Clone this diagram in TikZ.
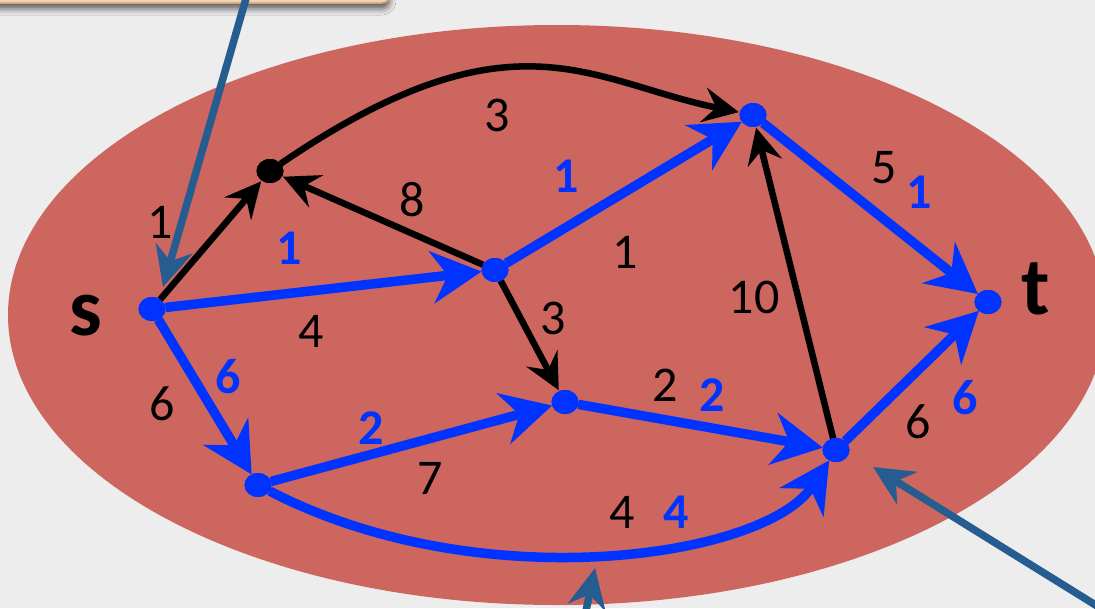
\documentclass[tikz,border=0pt]{standalone}
\usepackage{fontspec}
\setmainfont{Carlito}
\usetikzlibrary{arrows.meta,shapes.geometric,shadows.blur}
\definecolor{bgc}{HTML}{EDEDED}
\definecolor{setred}{HTML}{CD665F}
\definecolor{flowblue}{HTML}{0033FF}
\definecolor{steel}{HTML}{265D91}
\definecolor{beige}{HTML}{F2D3B1}
\definecolor{beigeline}{HTML}{C9A27C}
\tikzset{
  bdot/.style={ellipse,fill=flowblue,minimum width=27pt,minimum height=24pt,inner sep=0pt,outer sep=0pt},
  kdot/.style={ellipse,fill=black,minimum width=27pt,minimum height=24pt,inner sep=0pt,outer sep=0pt},
  kedge/.style={line width=6.5pt,black,-{Stealth[length=36pt,width=35pt,inset=13pt]},shorten >=1pt},
  bedge/.style={line width=9.5pt,flowblue,-{Stealth[length=50pt,width=52pt,inset=16pt]}},
  sarrow/.style={line width=7.5pt,steel,-{Stealth[length=40pt,width=38pt,inset=13pt]}},
  lbl/.style={inner sep=0pt,font=\fontsize{50}{60}\selectfont},
  blbl/.style={inner sep=0pt,text=flowblue,font=\fontsize{50}{60}\selectfont\bfseries},
  vlbl/.style={inner sep=0pt,font=\fontsize{82}{90}\selectfont\bfseries},
}
\begin{document}
\begin{tikzpicture}[x=1pt,y=-1pt]
\useasboundingbox (0,0) rectangle (1095,608);
\fill[bgc] (0,0) rectangle (1095,608);
\begin{scope}
\clip (0,0) rectangle (1095,608);
% set
\fill[setred] (557,315) ellipse [x radius=549, y radius=290];
% callout box
\filldraw[fill=beige,draw=beigeline,line width=1.5pt,rounded corners=8pt,
  blur shadow={shadow xshift=0pt,shadow yshift=-6pt,shadow blur radius=6pt,shadow opacity=60}]
  (-40,-120) rectangle (390,3);
% nodes
\node[bdot] (s) at (152,309) {};
\node[kdot] (a) at (270,171) {};
\node[bdot] (b) at (495,270) {};
\node[bdot] (c) at (753,115) {};
\node[bdot] (t) at (988,302) {};
\node[bdot] (d) at (565,402) {};
\node[bdot] (e) at (258,485) {};
\node[bdot] (f) at (836,450) {};
% black edges
\draw[kedge] (s) -- (a);
\draw[kedge] (b) -- (a);
\draw[kedge] (b) -- (d);
\draw[kedge] (f) -- (c);
\draw[kedge] (a) .. controls (513,5) and (590,82) .. (c);
% blue edges
\draw[bedge] (s) -- (b);
\draw[bedge] (s) -- (e);
\draw[bedge] (e) -- (d);
\draw[bedge] (d) -- (f);
\draw[bedge] (b) -- (c);
\draw[bedge] (c) -- (t);
\draw[bedge] (f) -- (t);
\draw[bedge] (e) .. controls (480,600) and (765,558) .. (f);
% dots again on top
\node[bdot] at (s) {};
\node[kdot] at (a) {};
\node[bdot] at (b) {};
\node[bdot] at (c) {};
\node[bdot] at (t) {};
\node[bdot] at (d) {};
\node[bdot] at (e) {};
\node[bdot] at (f) {};
% vertex labels
\node[vlbl] (ls) at (86,316) {s};
\node[vlbl] (lt) at (1036,289) {t};
% capacity labels
\node[lbl] (c1) at (160,222) {1};
\node[lbl] (c2) at (311,331) {4};
\node[lbl] (c3) at (412,200) {8};
\node[lbl] (c4) at (497,115) {3};
\node[lbl] (c5) at (625,252) {1};
\node[lbl] (c6) at (553,318) {3};
\node[lbl] (c7) at (754,297) {10};
\node[lbl] (c8) at (884,168) {5};
\node[lbl] (c9) at (162,404) {6};
\node[lbl] (c10) at (430,478) {7};
\node[lbl] (c11) at (665,385) {2};
\node[lbl] (c12) at (918,422) {6};
\node[lbl] (c13) at (622,512) {4};
% flow labels
\node[blbl] (f1) at (289,248) {1};
\node[blbl] (f2) at (566,176) {1};
\node[blbl] (f3) at (919,192) {1};
\node[blbl] (f4) at (228,377) {6};
\node[blbl] (f5) at (371,428) {2};
\node[blbl] (f6) at (712,395) {2};
\node[blbl] (f7) at (965,398) {6};
\node[blbl] (f8) at (676,512) {4};
% pointer arrows
\coordinate (p1s) at (247,-5);
\coordinate (p1e) at (163,287);
\coordinate (p2s) at (1110,614);
\coordinate (p2e) at (873,467);
\coordinate (p3s) at (583,625);
\coordinate (p3e) at (595,568);
\draw[sarrow] (p1s) -- (p1e);
\draw[sarrow] (p2s) -- (p2e);
\draw[sarrow] (p3s) -- (p3e);
\end{scope}
\end{tikzpicture}
\end{document}
